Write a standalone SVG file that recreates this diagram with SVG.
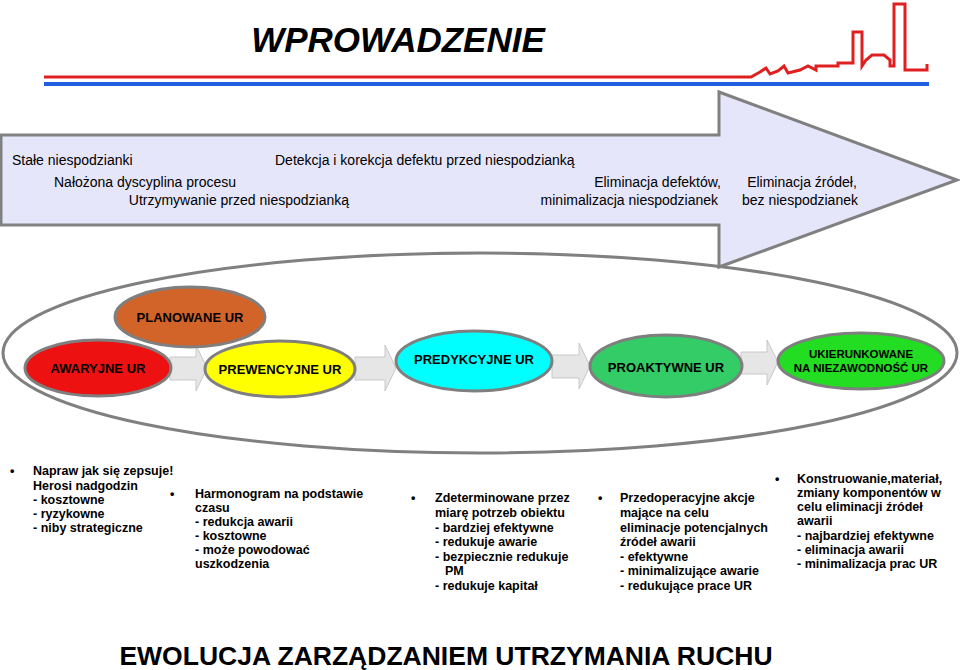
<svg xmlns="http://www.w3.org/2000/svg" width="960" height="670" viewBox="0 0 960 670">
<style>
text{font-family:"Liberation Sans",Arial,sans-serif;fill:#000}
.a{font-size:14px}
.n{font-size:13px;font-weight:bold}
.b{font-size:12.5px;font-weight:bold}
.node{stroke:#7f7f7f;stroke-width:3}
.ba{fill:#e6e6e6;stroke:#c8c8c8;stroke-width:1}
</style>
<rect width="960" height="670" fill="#fff"/>
<text x="398" y="52" text-anchor="middle" font-size="35" font-weight="bold" font-style="italic">WPROWADZENIE</text>
<g id="deco">
<line x1="44" y1="84" x2="929" y2="84" stroke="#1f5fe0" stroke-width="4"/>
<path d="M44 77 H751 L760 72 L766 68 L770 74 L778 71 L784 66 L788 73 L800 70 L808 66 L816 70 V66 H838 V63 H853 V32 H862 V66 L866 60 L872 55 H884 L890 60 V66 H894 V4 H905 V70 H927 V64" fill="none" stroke="#e02020" stroke-width="3"/>
</g>
<g id="bigarrow">
<path d="M1 135 H719 V92 L957 180 L719 267 V225 H1 Z" fill="#e6e6fa" stroke="#808080" stroke-width="3"/>
<text class="a" x="12" y="165">Stałe niespodzianki</text>
<text class="a" x="275" y="165">Detekcja i korekcja defektu przed niespodzianką</text>
<text class="a" x="54" y="187">Nałożona dyscyplina procesu</text>
<text class="a" x="349" y="205" text-anchor="end">Utrzymywanie przed niespodzianką</text>
<text class="a" x="721" y="187" text-anchor="end">Eliminacja defektów,</text>
<text class="a" x="718" y="205" text-anchor="end">minimalizacja niespodzianek</text>
<text class="a" x="802" y="187" text-anchor="middle">Eliminacja źródeł,</text>
<text class="a" x="800" y="205" text-anchor="middle">bez niespodzianek</text>
</g>
<ellipse id="outer" cx="480" cy="353" rx="477" ry="100" fill="none" stroke="#808080" stroke-width="3"/>
<g id="connectors">
<path class="ba" d="M170 357 H196 V345 L207 368 L196 391 V380 H170 Z"/>
<path class="ba" d="M355 357 H385 V345 L396 368 L385 391 V380 H355 Z"/>
<path class="ba" d="M552 355 H579 V343 L590 366 L579 389 V378 H552 Z"/>
<path class="ba" d="M741 352 H767 V340 L778 362 L767 385 V374 H741 Z"/>
</g>
<g id="awaryjne"><ellipse class="node" cx="98" cy="368" rx="73" ry="28" fill="#ee1111"/><text class="n" x="98" y="373" text-anchor="middle">AWARYJNE UR</text></g>
<g id="planowane"><ellipse class="node" cx="190" cy="317" rx="75" ry="30" fill="#d2642a"/><text class="n" x="190" y="322" text-anchor="middle">PLANOWANE UR</text></g>
<g id="prewencyjne"><ellipse class="node" cx="280" cy="369" rx="75" ry="28" fill="#ffff00"/><text class="n" x="280" y="374" text-anchor="middle">PREWENCYJNE UR</text></g>
<g id="predykcyjne"><ellipse class="node" cx="474" cy="361" rx="78" ry="30" fill="#00ffff"/><text class="n" x="474" y="364" text-anchor="middle">PREDYKCYJNE UR</text></g>
<g id="proaktywne"><ellipse class="node" cx="666" cy="366" rx="76" ry="31" fill="#33cc66"/><text class="n" x="666" y="372" text-anchor="middle">PROAKTYWNE UR</text></g>
<g id="ukierunkowane"><ellipse class="node" cx="861" cy="361" rx="83" ry="28" fill="#22dd22"/><text x="861" y="358" text-anchor="middle" font-size="11.5" font-weight="bold">UKIERUNKOWANE</text><text x="861" y="372" text-anchor="middle" font-size="11.5" font-weight="bold">NA NIEZAWODNOŚĆ UR</text></g>
<g id="col1" class="b">
<text class="b" x="10" y="475">•</text>
<text class="b" x="33" y="475">Napraw jak się zepsuje!</text>
<text class="b" x="33" y="490">Herosi nadgodzin</text>
<text class="b" x="33" y="504">- kosztowne</text>
<text class="b" x="33" y="518">- ryzykowne</text>
<text class="b" x="33" y="532">- niby strategiczne</text>
</g>
<g id="col2">
<text class="b" x="170" y="498">•</text>
<text class="b" x="195" y="498">Harmonogram na podstawie</text>
<text class="b" x="195" y="512">czasu</text>
<text class="b" x="195" y="526">- redukcja awarii</text>
<text class="b" x="195" y="540">- kosztowne</text>
<text class="b" x="195" y="554">- może powodować</text>
<text class="b" x="195" y="568">uszkodzenia</text>
</g>
<g id="col3">
<text class="b" x="411" y="502">•</text>
<text class="b" x="435" y="502">Zdeterminowane przez</text>
<text class="b" x="435" y="517">miarę potrzeb obiektu</text>
<text class="b" x="435" y="532">- bardziej efektywne</text>
<text class="b" x="435" y="546">- redukuje awarie</text>
<text class="b" x="435" y="561">- bezpiecznie redukuje</text>
<text class="b" x="445" y="575">PM</text>
<text class="b" x="435" y="590">- redukuje kapitał</text>
</g>
<g id="col4">
<text class="b" x="598" y="502">•</text>
<text class="b" x="620" y="502">Przedoperacyjne akcje</text>
<text class="b" x="620" y="517">mające na celu</text>
<text class="b" x="620" y="532">eliminacje potencjalnych</text>
<text class="b" x="620" y="546">źródeł awarii</text>
<text class="b" x="620" y="561">- efektywne</text>
<text class="b" x="620" y="575">- minimalizujące awarie</text>
<text class="b" x="620" y="590">- redukujące prace UR</text>
</g>
<g id="col5">
<text class="b" x="775" y="483">•</text>
<text class="b" x="797" y="483">Konstruowanie,materiał,</text>
<text class="b" x="797" y="497">zmiany komponentów w</text>
<text class="b" x="797" y="511">celu eliminacji źródeł</text>
<text class="b" x="797" y="525">awarii</text>
<text class="b" x="797" y="540">- najbardziej efektywne</text>
<text class="b" x="797" y="554">- eliminacja awarii</text>
<text class="b" x="797" y="568">- minimalizacja prac UR</text>
</g>
<text x="446" y="665" text-anchor="middle" font-size="26.5" font-weight="bold">EWOLUCJA ZARZĄDZANIEM UTRZYMANIA RUCHU</text>
</svg>
